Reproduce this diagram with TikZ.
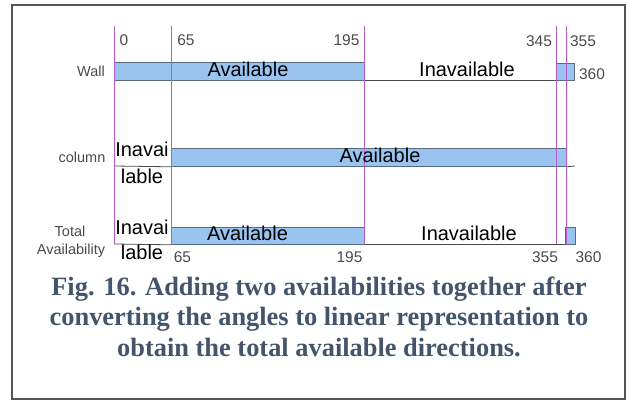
\documentclass[tikz,border=0pt]{standalone}
\usepackage{fontspec}
\setmainfont{Liberation Serif}
\newfontfamily\labelfont{Liberation Sans}
\definecolor{barblue}{HTML}{99C4F0}
\definecolor{baredge}{HTML}{5A6A80}
\definecolor{guidepurple}{HTML}{B55AC8}
\definecolor{labelgray}{HTML}{4A4A4A}
\definecolor{captionblue}{HTML}{44546A}
\definecolor{framegray}{HTML}{555555}
\begin{document}
\begin{tikzpicture}[x=1pt,y=-1pt,
  bar/.style={draw=baredge, line width=0.8pt, fill=barblue, inner sep=0pt, anchor=north west},
  axisline/.style={draw=labelgray, line width=0.8pt},
  guide/.style={draw=guidepurple, line width=0.8pt},
  rowname/.style={font=\labelfont\fontsize{14.5}{15}\selectfont, text=labelgray, inner sep=0pt},
  tick/.style={font=\labelfont\fontsize{15.5}{16}\selectfont, text=labelgray, inner sep=0pt},
  state/.style={font=\labelfont\fontsize{20}{21}\selectfont, text=black, inner sep=0pt},
  caption/.style={font=\bfseries\fontsize{26.4}{30}\selectfont, text=captionblue, inner sep=0pt, anchor=base}]
\useasboundingbox (0,0) rectangle (627,401);
\draw[framegray, line width=1.5pt] (12,5) rectangle (625,399);

% angle guides
\foreach \n/\x in {g0/114, g65/171, g195/364, g345/556, g355/566}{
  \coordinate (\n t) at (\x,26);
  \coordinate (\n b) at (\x,244);
}

% Wall row
\node[bar, minimum width=250pt, minimum height=18pt] (wallA) at (114,62) {};
\node[bar, minimum width=18pt, minimum height=17pt] (wallB) at (556,63) {};
\draw[axisline] (wallA.south east) -- (wallB.south west);

% column row
\coordinate (colstart) at (114,166);
\coordinate (colend) at (575,166);
\node[bar, minimum width=395pt, minimum height=18pt] (colA) at (171,148) {};
\draw[axisline] (colstart) -- (colA.south west);
\draw[axisline] (colA.south east) -- (colend);

% Total availability row
\coordinate (totstart) at (114,244);
\node[bar, minimum width=193pt, minimum height=17pt] (totA) at (171,227) {};
\node[bar, minimum width=10pt, minimum height=17pt] (totB) at (565,227) {};
\draw[axisline] (totstart) -- (totA.south west);
\draw[axisline] (totA.south east) -- (totB.south west);

% guides drawn over the bars
\foreach \n in {g0, g65, g195, g345, g355}{
  \draw[guide] (\n t) -- (\n b);
}

% row names
\node[rowname] (lwall) at (91,71) {Wall};
\node[rowname] (lcol) at (82,157) {column};
\node[rowname] (ltot1) at (70,231) {Total};
\node[rowname] (ltot2) at (71,251) {Availability};

% angle values
\node[tick] (n0) at (124,40) {0};
\node[tick] (n65) at (186,40) {65};
\node[tick] (n195) at (346.5,40) {195};
\node[tick] (n345) at (539,41) {345};
\node[tick] (n355) at (583,41) {355};
\node[tick] (n360) at (592,74) {360};
\node[tick] (m65) at (182.5,257) {65};
\node[tick] (m195) at (349.5,257) {195};
\node[tick] (m355) at (545,257) {355};
\node[tick] (m360) at (588.5,257) {360};

% states
\node[state] (s1) at (248,69) {Available};
\node[state] (s2) at (467,69) {Inavailable};
\node[state] (s3) at (142,149) {Inavai};
\node[state] (s4) at (142,176) {lable};
\node[state] (s5) at (380,155) {Available};
\node[state] (s6) at (142,227) {Inavai};
\node[state] (s7) at (142,252) {lable};
\node[state] (s8) at (247.5,233.5) {Available};
\node[state] (s9) at (469,233) {Inavailable};

% caption, one node per line
\node[caption] (cap1) at (319,295) {Fig. 16. Adding two availabilities together after};
\node[caption] (cap2) at (319,325.5) {converting the angles to linear representation to};
\node[caption] (cap3) at (319,356) {obtain the total available directions.};
\end{tikzpicture}
\end{document}
